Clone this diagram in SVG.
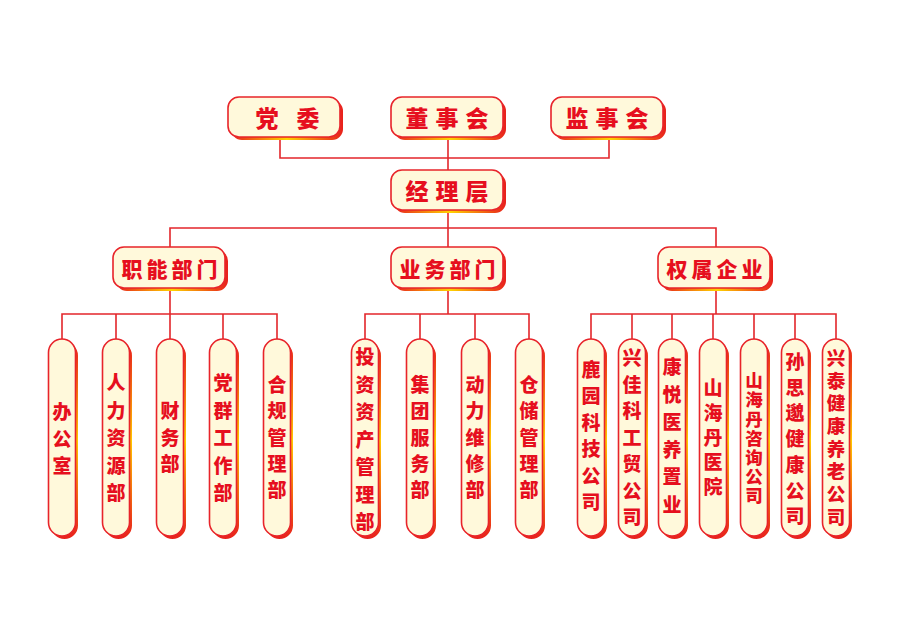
<svg xmlns="http://www.w3.org/2000/svg" width="900" height="637" viewBox="0 0 900 637">
<defs>
<linearGradient id="gh" x1="0" y1="0" x2="1" y2="0">
<stop offset="0" stop-color="#e8201c"/><stop offset="0.5" stop-color="#ffd400"/><stop offset="1" stop-color="#e8201c"/>
</linearGradient>
<linearGradient id="gv" x1="0" y1="0" x2="0" y2="1">
<stop offset="0" stop-color="#e8201c"/><stop offset="0.5" stop-color="#ffc800"/><stop offset="1" stop-color="#e8201c"/>
</linearGradient>
<style>
.sh{fill:url(#gh)}
.shv{fill:url(#gv)}
.bx{fill:#fff9db;stroke:#e8242a;stroke-width:1.6}
.t1{font-family:"Noto Sans CJK SC","Liberation Sans",sans-serif;font-weight:900;font-size:23px;fill:#e60f1e;text-anchor:middle}
.t2{font-family:"Noto Sans CJK SC","Liberation Sans",sans-serif;font-weight:900;font-size:21px;fill:#e60f1e;text-anchor:middle}
.t3{font-family:"Noto Sans CJK SC","Liberation Sans",sans-serif;font-weight:900;font-size:19px;fill:#e60f1e;text-anchor:middle}
.tv{font-family:"Noto Sans CJK SC","Liberation Sans",sans-serif;font-weight:900;fill:#e60f1e;text-anchor:middle;writing-mode:vertical-rl;text-orientation:upright}
.ln{fill:none;stroke:#e3262b;stroke-width:1.6}
</style>
</defs>
<rect width="900" height="637" fill="#ffffff"/>

<g id="connectors">
<path class="ln" d="M280 140V158H609V140"/>
<path class="ln" d="M448 140V170"/>
<path class="ln" d="M448 212V247"/>
<path class="ln" d="M170 247V228H716V247"/>
<path class="ln" d="M170 291V314"/>
<path class="ln" d="M62 340V314H277V340"/>
<path class="ln" d="M116 314V340M170 314V340M223 314V340"/>
<path class="ln" d="M448 291V314"/>
<path class="ln" d="M365 340V314H529V340"/>
<path class="ln" d="M420 314V340M475 314V340"/>
<path class="ln" d="M716 291V314"/>
<path class="ln" d="M591 340V314H836V340"/>
<path class="ln" d="M632 314V340M672 314V340M713 314V340M754 314V340M795 314V340"/>
</g>

<g id="dangwei">
<rect class="sh" x="231" y="100" width="112" height="40" rx="11"/>
<rect class="bx" x="228" y="97" width="112" height="40" rx="11"/>
<text class="t1" x="267 308" y="127">党委</text>
</g>
<g id="dongshihui">
<rect class="sh" x="394" y="100" width="112" height="40" rx="11"/>
<rect class="bx" x="391" y="97" width="112" height="40" rx="11"/>
<text class="t1" x="417 447 477" y="127">董事会</text>
</g>
<g id="jianshihui">
<rect class="sh" x="554" y="100" width="112" height="40" rx="11"/>
<rect class="bx" x="551" y="97" width="112" height="40" rx="11"/>
<text class="t1" x="577 607 637" y="127">监事会</text>
</g>
<g id="jinglice">
<rect class="sh" x="394" y="173" width="112" height="40" rx="11"/>
<rect class="bx" x="391" y="170" width="112" height="40" rx="11"/>
<text class="t1" x="417 447 477" y="200">经理层</text>
</g>

<g id="zhineng">
<rect class="sh" x="116" y="250" width="112" height="41" rx="11"/>
<rect class="bx" x="113" y="247" width="112" height="41" rx="11"/>
<text class="t2" x="132 157 182 207" y="277">职能部门</text>
</g>
<g id="yewu">
<rect class="sh" x="394" y="250" width="112" height="41" rx="11"/>
<rect class="bx" x="391" y="247" width="112" height="41" rx="11"/>
<text class="t2" x="410 435 460 485" y="277">业务部门</text>
</g>
<g id="quanshu">
<rect class="sh" x="661" y="250" width="112" height="41" rx="11"/>
<rect class="bx" x="658" y="247" width="112" height="41" rx="11"/>
<text class="t2" x="677 702 727 752" y="277">权属企业</text>
</g>

<!-- 职能 leaves -->
<g id="bangongshi">
<rect class="shv" x="51" y="342" width="27" height="197" rx="13.5"/>
<rect class="bx" x="48.5" y="339" width="27" height="197" rx="13.5"/>
<text class="t3" x="62" y="419">办<tspan x="62" dy="27">公</tspan><tspan x="62" dy="27">室</tspan></text>
</g>
<g id="renli">
<rect class="shv" x="105" y="342" width="27" height="197" rx="13.5"/>
<rect class="bx" x="102.5" y="339" width="27" height="197" rx="13.5"/>
<text class="t3" x="116" y="390">人<tspan x="116" dy="27.5">力</tspan><tspan x="116" dy="27.5">资</tspan><tspan x="116" dy="27.5">源</tspan><tspan x="116" dy="27.5">部</tspan></text>
</g>
<g id="caiwu">
<rect class="shv" x="159" y="342" width="27" height="197" rx="13.5"/>
<rect class="bx" x="156.5" y="339" width="27" height="197" rx="13.5"/>
<text class="t3" x="170" y="418">财<tspan x="170" dy="26.5">务</tspan><tspan x="170" dy="26.5">部</tspan></text>
</g>
<g id="dangqun">
<rect class="shv" x="212" y="342" width="27" height="197" rx="13.5"/>
<rect class="bx" x="209.5" y="339" width="27" height="197" rx="13.5"/>
<text class="t3" x="223" y="390">党<tspan x="223" dy="27.5">群</tspan><tspan x="223" dy="27.5">工</tspan><tspan x="223" dy="27.5">作</tspan><tspan x="223" dy="27.5">部</tspan></text>
</g>
<g id="hegui">
<rect class="shv" x="266" y="342" width="27" height="197" rx="13.5"/>
<rect class="bx" x="263.5" y="339" width="27" height="197" rx="13.5"/>
<text class="t3" x="277" y="392">合<tspan x="277" dy="26.3">规</tspan><tspan x="277" dy="26.3">管</tspan><tspan x="277" dy="26.3">理</tspan><tspan x="277" dy="26.3">部</tspan></text>
</g>

<!-- 业务 leaves -->
<g id="touzi">
<rect class="shv" x="354" y="342" width="27" height="197" rx="13.5"/>
<rect class="bx" x="351.5" y="339" width="27" height="197" rx="13.5"/>
<text class="t3" x="365" y="364">投<tspan x="365" dy="27.5">资</tspan><tspan x="365" dy="27.5">资</tspan><tspan x="365" dy="27.5">产</tspan><tspan x="365" dy="27.5">管</tspan><tspan x="365" dy="27.5">理</tspan><tspan x="365" dy="27.5">部</tspan></text>
</g>
<g id="jituan">
<rect class="shv" x="409" y="342" width="27" height="197" rx="13.5"/>
<rect class="bx" x="406.5" y="339" width="27" height="197" rx="13.5"/>
<text class="t3" x="420" y="392">集<tspan x="420" dy="26.3">团</tspan><tspan x="420" dy="26.3">服</tspan><tspan x="420" dy="26.3">务</tspan><tspan x="420" dy="26.3">部</tspan></text>
</g>
<g id="dongli">
<rect class="shv" x="464" y="342" width="27" height="197" rx="13.5"/>
<rect class="bx" x="461.5" y="339" width="27" height="197" rx="13.5"/>
<text class="t3" x="475" y="392">动<tspan x="475" dy="26.3">力</tspan><tspan x="475" dy="26.3">维</tspan><tspan x="475" dy="26.3">修</tspan><tspan x="475" dy="26.3">部</tspan></text>
</g>
<g id="cangchu">
<rect class="shv" x="518" y="342" width="27" height="197" rx="13.5"/>
<rect class="bx" x="515.5" y="339" width="27" height="197" rx="13.5"/>
<text class="t3" x="529" y="392">仓<tspan x="529" dy="26.3">储</tspan><tspan x="529" dy="26.3">管</tspan><tspan x="529" dy="26.3">理</tspan><tspan x="529" dy="26.3">部</tspan></text>
</g>

<!-- 权属 leaves -->
<g id="luyuan">
<rect class="shv" x="580" y="342" width="27" height="197" rx="13.5"/>
<rect class="bx" x="577.5" y="339" width="27" height="197" rx="13.5"/>
<text class="t3" x="591" y="377">鹿<tspan x="591" dy="26.4">园</tspan><tspan x="591" dy="26.4">科</tspan><tspan x="591" dy="26.4">技</tspan><tspan x="591" dy="26.4">公</tspan><tspan x="591" dy="26.4">司</tspan></text>
</g>
<g id="xingjia">
<rect class="shv" x="621" y="342" width="27" height="197" rx="13.5"/>
<rect class="bx" x="618.5" y="339" width="27" height="197" rx="13.5"/>
<text class="t3" x="632" y="365">兴<tspan x="632" dy="26.5">佳</tspan><tspan x="632" dy="26.5">科</tspan><tspan x="632" dy="26.5">工</tspan><tspan x="632" dy="26.5">贸</tspan><tspan x="632" dy="26.5">公</tspan><tspan x="632" dy="26.5">司</tspan></text>
</g>
<g id="kangyue">
<rect class="shv" x="661" y="342" width="27" height="197" rx="13.5"/>
<rect class="bx" x="658.5" y="339" width="27" height="197" rx="13.5"/>
<text class="t3" x="672" y="374">康<tspan x="672" dy="27.6">悦</tspan><tspan x="672" dy="27.6">医</tspan><tspan x="672" dy="27.6">养</tspan><tspan x="672" dy="27.6">置</tspan><tspan x="672" dy="27.6">业</tspan></text>
</g>
<g id="shanhaidan">
<rect class="shv" x="702" y="342" width="27" height="197" rx="13.5"/>
<rect class="bx" x="699.5" y="339" width="27" height="197" rx="13.5"/>
<text class="t3" x="713" y="395">山<tspan x="713" dy="24.8">海</tspan><tspan x="713" dy="24.8">丹</tspan><tspan x="713" dy="24.8">医</tspan><tspan x="713" dy="24.8">院</tspan></text>
</g>
<g id="zixun">
<rect class="shv" x="743" y="342" width="27" height="197" rx="13.5"/>
<rect class="bx" x="740.5" y="339" width="27" height="197" rx="13.5"/>
<text class="tv" x="754" y="439" style="font-size:17.5px;letter-spacing:1.7px">山海丹咨询公司</text>
</g>
<g id="sunsimiao">
<rect class="shv" x="784" y="342" width="27" height="197" rx="13.5"/>
<rect class="bx" x="781.5" y="339" width="27" height="197" rx="13.5"/>
<text class="t3" x="795" y="369">孙<tspan x="795" dy="25.7">思</tspan><tspan x="795" dy="25.7">邈</tspan><tspan x="795" dy="25.7">健</tspan><tspan x="795" dy="25.7">康</tspan><tspan x="795" dy="25.7">公</tspan><tspan x="795" dy="25.7">司</tspan></text>
</g>
<g id="xingtai">
<rect class="shv" x="825" y="342" width="27" height="197" rx="13.5"/>
<rect class="bx" x="822.5" y="339" width="27" height="197" rx="13.5"/>
<text class="tv" x="836" y="439.5" style="font-size:18.5px;letter-spacing:4.2px">兴泰健康养老公司</text>
</g>
</svg>
